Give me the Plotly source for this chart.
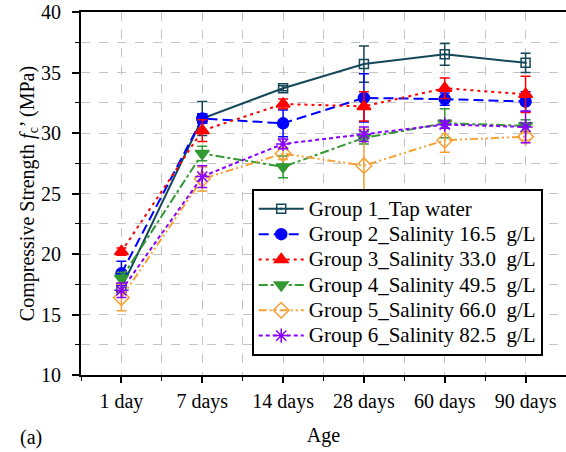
import plotly.graph_objects as go

# Curing ages and compressive strength results (MPa) with standard deviations
ages = ["1 day", "7 days", "14 days", "28 days", "60 days", "90 days"]

g1_tap = [17.2, 31.2, 33.7, 35.7, 36.5, 35.8]
g1_err = [0.3, 1.4, 0.2, 1.5, 0.9, 0.8]

g2_s165 = [18.4, 31.2, 30.8, 32.9, 32.8, 32.6]
g2_err = [1.0, 0.4, 1.1, 2.0, 0.5, 0.8]

g3_s330 = [20.2, 30.2, 32.4, 32.2, 33.7, 33.2]
g3_err = [0.3, 0.9, 0.4, 1.2, 0.85, 1.5]

g4_s495 = [18.0, 28.3, 27.2, 29.6, 30.8, 30.6]
g4_err = [0.5, 0.6, 0.9, 0.5, 1.2, 0.5]

g5_s660 = [16.4, 26.2, 28.3, 27.3, 29.4, 29.7]
g5_err = [1.1, 1.0, 0.5, 3.0, 1.0, 0.3]

g6_s825 = [17.0, 26.4, 29.1, 29.9, 30.7, 30.5]
g6_err = [0.6, 0.9, 0.4, 0.6, 0.3, 1.3]

names = [
    "Group 1_Tap water",
    "Group 2_Salinity 16.5\u00a0 g/L",
    "Group 3_Salinity 33.0\u00a0 g/L",
    "Group 4_Salinity 49.5\u00a0 g/L",
    "Group 5_Salinity 66.0\u00a0 g/L",
    "Group 6_Salinity 82.5\u00a0 g/L",
]

FONT = "Liberation Serif"

series = [
    (g1_tap, g1_err, "#15475a", "solid", "square-open-dot", 9),
    (g2_s165, g2_err, "#0000ff", "10px,5px", "circle", 11),
    (g3_s330, g3_err, "#ff0000", "3px,4px", "triangle-up", 12),
    (g4_s495, g4_err, "#339933", "9px,3px,3px,3px", "triangle-down", 12),
    (g5_s660, g5_err, "#f7a035", "8px,3px,2px,3px,2px,3px", "diamond-open", 12),
    (g6_s825, g6_err, "#8a00ff", "4px,3px", "asterisk-open", 12),
]

xpos = list(range(len(ages)))

fig = go.Figure()
for name, (vals, errs, color, dash, symbol, size) in zip(names, series):
    fig.add_trace(go.Scatter(
        x=xpos, y=vals, mode="lines+markers",
        # legend rows are spaced by the legend font; entry text is drawn larger
        name='<span style="font-size:21px">' + name + "</span>",
        line=dict(color=color, width=2, dash=dash),
        marker=dict(symbol=symbol, size=size, color=color,
                    line=dict(color=color, width=1.5)),
        error_y=dict(type="data", array=errs, visible=True,
                     color=color, thickness=1.5, width=5),
    ))

grid = dict(showgrid=True, gridcolor="#c4c4c4", griddash="dash", gridwidth=1)

fig.update_xaxes(
    range=[-0.5, 5.5], tickvals=xpos, ticktext=ages,
    ticks="outside", ticklen=6, tickwidth=1.5, tickcolor="black",
    showline=True, linecolor="black", linewidth=2, mirror=True,
    zeroline=False, ticklabelstandoff=1,
    minor=dict(tick0=0.5, dtick=1, ticks="outside", ticklen=4,
               tickwidth=1, tickcolor="black", showgrid=True,
               gridcolor="#c4c4c4", griddash="dash"),
    title=dict(text="Age", font=dict(family=FONT, size=20, color="black"),
               standoff=16),
    tickfont=dict(family=FONT, size=20, color="black"),
    **grid,
)

fig.update_yaxes(
    range=[10, 40], tick0=10, dtick=5,
    ticks="outside", ticklen=7, tickwidth=1.5, tickcolor="black",
    showline=True, linecolor="black", linewidth=2,
    zeroline=False, ticklabelstandoff=7,
    minor=dict(dtick=2.5, ticks="outside", ticklen=4, tickwidth=1,
               tickcolor="black", showgrid=True,
               gridcolor="#c4c4c4", griddash="dash"),
    title=dict(text="Compressive Strength <i>f</i><sub>c</sub>\u2019 (MPa)",
               font=dict(family=FONT, size=20, color="black"), standoff=0),
    tickfont=dict(family=FONT, size=20, color="black"),
    **grid,
)

fig.add_annotation(text="(a)", xref="paper", yref="paper", x=-0.13, y=-0.135,
                   xanchor="left", yanchor="top", showarrow=False,
                   font=dict(family=FONT, size=20, color="black"))

fig.update_layout(
    width=566, height=452,
    margin=dict(l=81, r=0, t=12, b=77),
    plot_bgcolor="white", paper_bgcolor="white",
    font=dict(family=FONT, size=20, color="black"),
    legend=dict(x=0.352, y=0.512, xanchor="left", yanchor="top",
                bgcolor="white", bordercolor="black", borderwidth=2,
                font=dict(family=FONT, size=17.2, color="black"),
                itemwidth=45, tracegroupgap=0),
    showlegend=True,
)

fig.write_html("out.html")
